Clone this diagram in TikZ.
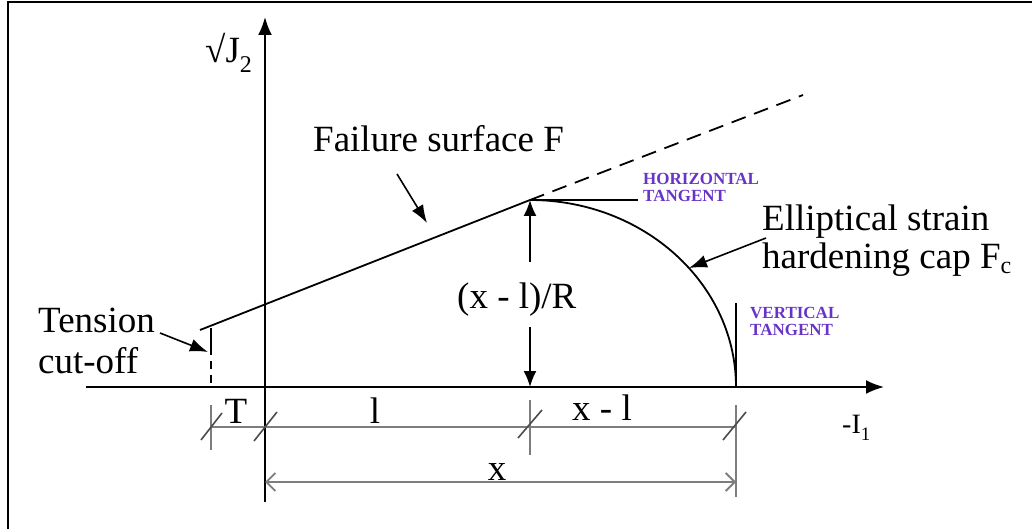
\documentclass[tikz,border=0pt]{standalone}
\usepackage{fontspec}
\setmainfont{Liberation Serif}
\usetikzlibrary{arrows.meta}
\definecolor{tanpurple}{RGB}{104,52,200}
\definecolor{dimgray}{RGB}{125,125,125}
\newcommand{\mysub}[3]{\raisebox{-#2pt}{\fontsize{#3}{#3}\selectfont #1}}
\begin{document}
\begin{tikzpicture}[x=1pt,y=-1pt,
  lbl/.style={font=\fontsize{37}{40}\selectfont, inner sep=0pt, anchor=base west},
  tanlbl/.style={font=\fontsize{17}{17}\selectfont\bfseries, text=tanpurple, inner sep=0pt, anchor=base west},
  axis/.style={line width=2pt, -{Latex[length=18pt,width=14pt]}},
  curve/.style={line width=1.8pt},
  dimline/.style={line width=1.8pt, draw=dimgray},
  slash/.style={line width=1.6pt, draw=black!70},
  annot/.style={line width=1.6pt, -{Latex[length=18pt,width=13pt]}},
  hgt/.style={line width=1.8pt, -{Latex[length=16pt,width=13pt]}}
]
\useasboundingbox (0,0) rectangle (1032,529);
% frame (left and top edges)
\draw[line width=2.5pt] (8,529) -- (8,2) -- (1032,2);

% coordinates
\coordinate (ytop) at (265,17);
\coordinate (ybot) at (265,502);
\coordinate (xl) at (86,387);
\coordinate (xr) at (884,387);
\coordinate (Fs) at (200,330);
\coordinate (P) at (530,200);
\coordinate (Dend) at (803,95);
\coordinate (Ht) at (638,200);
\coordinate (Vt) at (736,303);
\coordinate (Vb) at (736,387);
\coordinate (Pb) at (530,387);
\coordinate (Pm1) at (530,262);
\coordinate (Pm2) at (530,327);
\coordinate (Ct) at (211,328);
\coordinate (Cm) at (211,347);
\coordinate (Cb) at (211,387);

% axes
\draw[axis] (ybot) -- (ytop);
\draw[axis] (xl) -- (xr);

% failure surface
\draw[curve] (Fs) -- (P);
\draw[curve, dash pattern=on 15pt off 9pt] (P) -- (Dend);
% horizontal tangent
\draw[line width=1.6pt] (P) -- (Ht);
% elliptical cap
\draw[curve] (P) arc[start angle=90, end angle=0, x radius=206pt, y radius=187pt];
% vertical tangent
\draw[line width=1.6pt] (Vt) -- (Vb);
% tension cut-off
\draw[line width=1.6pt] (Ct) -- (Cm);
\draw[line width=1.6pt, dash pattern=on 8pt off 6pt] (Cm) -- (Cb);

% (x-l)/R height arrows
\draw[hgt] (Pm1) -- (P);
\draw[hgt] (Pm2) -- (Pb);

% dimension lines
\coordinate (dT) at (211,427);
\coordinate (dO) at (265,427);
\coordinate (dL) at (530,427);
\coordinate (dX) at (736,427);
\draw[dimline] (dT) -- (dX);
\draw[dimline] (211,405) -- (211,450);
\draw[dimline] (530,400) -- (530,455);
\draw[dimline] (736,405) -- (736,497);
\draw[slash] (201,440) -- (222,413);
\draw[slash] (254,441) -- (277,412);
\draw[slash] (518,438) -- (542,410);
\draw[slash] (723,440) -- (746,412);
\coordinate (xa) at (265,482);
\coordinate (xb) at (736,482);
\draw[dimline, {Straight Barb[length=9pt,width=18pt]}-{Straight Barb[length=9pt,width=18pt]}] (xa) -- (xb);

% annotation arrows
\coordinate (a1s) at (160,333); \coordinate (a1e) at (208,352);
\coordinate (a2s) at (397,174); \coordinate (a2e) at (427,223);
\coordinate (a3s) at (766,238); \coordinate (a3e) at (689,268);
\draw[annot] (a1s) -- (a1e);
\draw[annot] (a2s) -- (a2e);
\draw[annot] (a3s) -- (a3e);

% labels
\node[lbl] (J2) at (205,63) {√J\mysub{2}{10}{24}};
\node[lbl] (fail) at (313,152) {Failure surface F};
\node[lbl] (ell1) at (762,230) {Elliptical strain};
\node[lbl] (ell2) at (762,268) {hardening cap F\mysub{c}{5}{24}};
\node[lbl] (ten1) at (38,332) {Tension};
\node[lbl] (ten2) at (38,373) {cut-off};
\node[lbl] (xlR) at (457,308) {(x - l)/R};
\node[lbl, anchor=base] (T) at (236,423) {T};
\node[lbl, anchor=base] (l) at (375,423) {l};
\node[lbl] (xml) at (572,420) {x - l};
\node[lbl, anchor=base] (x) at (497,480) {x};
\node[lbl, font=\fontsize{28}{30}\selectfont] (I1) at (842,433) {-I\mysub{1}{7}{19}};
\node[tanlbl] (ht1) at (643,185) {HORIZONTAL};
\node[tanlbl] (ht2) at (643,202) {TANGENT};
\node[tanlbl] (vt1) at (750,318) {VERTICAL};
\node[tanlbl] (vt2) at (750,335) {TANGENT};
\end{tikzpicture}
\end{document}
